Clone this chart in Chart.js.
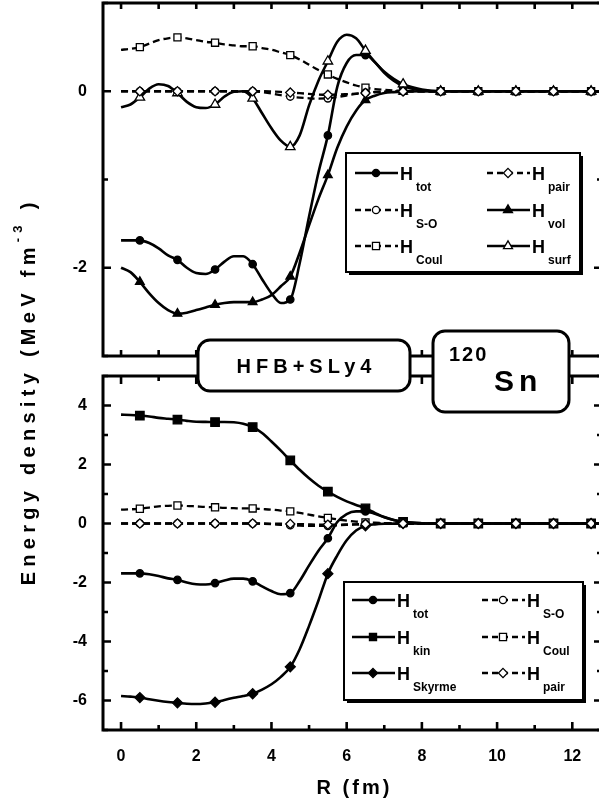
<!DOCTYPE html>
<html>
<head>
<meta charset="utf-8">
<title>Energy density - HFB+SLy4 120Sn</title>
<script src="https://cdn.jsdelivr.net/npm/chart.js@4.4.1/dist/chart.umd.min.js"></script>
<style>
  html, body { margin: 0; padding: 0; background: #fff; overflow: hidden; }
  #wrap { position: relative; width: 599px; height: 807px; overflow: hidden; }
  #wrap canvas { position: absolute; left: 0; top: 0; }
</style>
</head>
<body>
<div id="wrap">
  <canvas id="cvTop" width="605" height="807" style="width:605px;height:807px"></canvas>
  <canvas id="cvBot" width="605" height="807" style="width:605px;height:807px"></canvas>
</div>
<script>
// ─── Datos (R en fm, densidades en MeV fm^-3) ──────────────────────
const R = [0, 0.25, 0.5, 0.75, 1, 1.25, 1.5, 1.75, 2, 2.25, 2.5, 2.75,
           3, 3.25, 3.5, 3.75, 4, 4.25, 4.5, 4.75, 5, 5.25, 5.5, 5.75,
           6, 6.25, 6.5, 6.75, 7, 7.25, 7.5, 8, 8.5, 9.5, 10.5, 11.5, 12.5, 12.8];

const H_TOT = [-1.69, -1.69, -1.69, -1.72, -1.78, -1.86, -1.91, -2.00, -2.06, -2.07, -2.02, -1.93,
               -1.87, -1.87, -1.96, -2.13, -2.29, -2.40, -2.36, -1.95, -1.42, -0.92, -0.50, 0.05,
               0.32, 0.41, 0.41, 0.33, 0.21, 0.12, 0.06, 0.01, 0, 0, 0, 0, 0, 0];
const H_VOL = [-2.00, -2.05, -2.16, -2.29, -2.40, -2.48, -2.52, -2.51, -2.48, -2.45, -2.42, -2.40,
               -2.39, -2.39, -2.39, -2.36, -2.31, -2.21, -2.10, -1.83, -1.52, -1.22, -0.95, -0.64,
               -0.40, -0.22, -0.10, -0.05, -0.02, -0.01, -0.005, 0, 0, 0, 0, 0, 0, 0];
const H_SURF = [-0.18, -0.15, -0.07, 0.03, 0.08, 0.06, -0.02, -0.12, -0.18, -0.19, -0.15, -0.06,
                -0.005, 0.0, -0.08, -0.25, -0.42, -0.56, -0.63, -0.50, -0.16, 0.12, 0.34, 0.56,
                0.64, 0.60, 0.46, 0.33, 0.22, 0.14, 0.08, 0.02, 0, 0, 0, 0, 0, 0];
const H_COUL = [0.47, 0.48, 0.50, 0.54, 0.58, 0.60, 0.61, 0.60, 0.58, 0.56, 0.55, 0.53,
                0.52, 0.51, 0.51, 0.49, 0.47, 0.44, 0.41, 0.36, 0.30, 0.24, 0.19, 0.14,
                0.10, 0.065, 0.04, 0.025, 0.015, 0.008, 0.005, 0, 0, 0, 0, 0, 0, 0];
const H_SO = [0, 0, 0, 0, 0, 0, 0, 0, 0, 0, 0, 0,
              0, 0, 0, -0.01, -0.025, -0.045, -0.06, -0.072, -0.08, -0.083, -0.08, -0.065,
              -0.048, -0.03, -0.016, -0.008, -0.004, -0.002, 0, 0, 0, 0, 0, 0, 0, 0];
const H_PAIR = [0, 0, 0, 0, 0, 0, 0, 0, 0, 0, 0, 0,
                0, 0, 0, 0, -0.003, -0.008, -0.015, -0.022, -0.03, -0.037, -0.04, -0.038,
                -0.033, -0.027, -0.02, -0.013, -0.008, -0.004, -0.002, 0, 0, 0, 0, 0, 0, 0];
const H_KIN = [3.69, 3.68, 3.66, 3.63, 3.58, 3.55, 3.52, 3.48, 3.45, 3.445, 3.44, 3.44,
               3.43, 3.38, 3.27, 3.07, 2.78, 2.47, 2.14, 1.82, 1.53, 1.28, 1.08, 0.90,
               0.75, 0.63, 0.51, 0.36, 0.22, 0.12, 0.055, 0.01, 0, 0, 0, 0, 0, 0];
const H_SKY = [-5.85, -5.87, -5.90, -5.96, -6.01, -6.05, -6.08, -6.11, -6.12, -6.10, -6.06, -5.98,
               -5.91, -5.85, -5.77, -5.63, -5.45, -5.20, -4.86, -4.26, -3.47, -2.61, -1.70, -1.08,
               -0.57, -0.24, -0.08, -0.03, -0.01, -0.005, 0, 0, 0, 0, 0, 0, 0, 0];

// Ticks y etiquetas
const X_TICKS = [0, 1, 2, 3, 4, 5, 6, 7, 8, 9, 10, 11, 12];
const X_LABELS = [0, 2, 4, 6, 8, 10, 12];
const Y_TOP_TICKS = [1, 0, -1, -2, -3];
const Y_TOP_LABELS = [0, -2];
const Y_BOT_TICKS = [5, 4, 3, 2, 1, 0, -1, -2, -3, -4, -5, -6, -7];
const Y_BOT_LABELS = [4, 2, 0, -2, -4, -6];

const FONT = '"Liberation Sans", Arial, Helvetica, sans-serif';
const X_MIN = -0.48, X_MAX = 12.79;

// ─── Serie con marcadores sólo en R = n + 0.5 ─────────────────────
function serie(vals, style, filled, dashed, radius) {
    return {
        data: R.map((r, i) => ({ x: r, y: vals[i] })),
        borderColor: '#000',
        borderWidth: dashed ? 2.3 : 2.6,
        borderDash: dashed ? [7, 4] : [],
        pointStyle: style,
        pointBackgroundColor: filled ? '#000' : '#fff',
        pointBorderColor: '#000',
        pointBorderWidth: 1.3,
        pointRadius: (ctx) => (R[ctx.dataIndex] % 1 === 0.5 ? radius : 0),
        cubicInterpolationMode: 'monotone',
        fill: false
    };
}

// ─── Marcador para la leyenda ─────────────────────────────────────
function marca(ctx, style, x, y, r, filled) {
    ctx.save();
    ctx.setLineDash([]);
    ctx.lineWidth = 1.3;
    ctx.fillStyle = filled ? '#000' : '#fff';
    ctx.strokeStyle = '#000';
    ctx.beginPath();
    if (style === 'circle') {
        ctx.arc(x, y, r, 0, Math.PI * 2);
    } else if (style === 'rect') {
        const s = r * Math.SQRT1_2;
        ctx.rect(x - s, y - s, 2 * s, 2 * s);
    } else if (style === 'rectRot') {
        ctx.moveTo(x, y - r); ctx.lineTo(x + r, y); ctx.lineTo(x, y + r); ctx.lineTo(x - r, y);
        ctx.closePath();
    } else {
        ctx.moveTo(x, y - r);
        ctx.lineTo(x + 0.866 * r, y + 0.5 * r);
        ctx.lineTo(x - 0.866 * r, y + 0.5 * r);
        ctx.closePath();
    }
    ctx.fill();
    ctx.stroke();
    ctx.restore();
}

function leyenda(ctx, cfg) {
    const [bx, by, bw, bh] = cfg.box;
    ctx.save();
    ctx.setLineDash([]);
    ctx.fillStyle = '#000';
    ctx.fillRect(bx + 3, by + 3, bw, bh);
    ctx.fillStyle = '#fff';
    ctx.fillRect(bx, by, bw, bh);
    ctx.lineWidth = 2;
    ctx.strokeStyle = '#000';
    ctx.strokeRect(bx, by, bw, bh);

    cfg.items.forEach(it => {
        const x0 = cfg.cols[it.col], y = cfg.rows[it.row];
        ctx.beginPath();
        ctx.lineWidth = it.dashed ? 2.3 : 2.6;
        ctx.setLineDash(it.dashed ? [6, 4] : []);
        ctx.moveTo(x0, y);
        ctx.lineTo(x0 + 43, y);
        ctx.stroke();
        const rr = { circle: 3.6, rect: 5, rectRot: 4.6, triangle: 5.2 }[it.style];
        marca(ctx, it.style, x0 + 21, y, rr, it.filled);
        ctx.fillStyle = '#000';
        ctx.textAlign = 'left';
        ctx.textBaseline = 'alphabetic';
        ctx.font = 'bold 18px ' + FONT;
        ctx.fillText('H', x0 + 45, y + 7);
        ctx.font = 'bold 12px ' + FONT;
        ctx.fillText(it.sub, x0 + 61, y + 18);
    });
    ctx.restore();
}

// ─── Marco, ticks interiores y leyenda de cada panel ──────────────
function decorado(cfg) {
    return {
        id: 'decorado',
        afterDatasetsDraw(chart) {
            const ctx = chart.ctx, a = chart.chartArea;
            const xs = chart.scales.x, ys = chart.scales.y;
            ctx.save();
            ctx.strokeStyle = '#000';
            ctx.setLineDash([]);
            ctx.lineWidth = 3;
            ctx.strokeRect(a.left, a.top, a.right - a.left, a.bottom - a.top);
            ctx.lineWidth = 2.6;
            ctx.beginPath();
            X_TICKS.forEach(v => {
                const px = xs.getPixelForValue(v);
                const len = v % 2 === 0 ? cfg.xMajor : cfg.xMinor;
                ctx.moveTo(px, a.bottom); ctx.lineTo(px, a.bottom - len);
                ctx.moveTo(px, a.top);    ctx.lineTo(px, a.top + len);
            });
            cfg.yTicks.forEach(v => {
                const py = ys.getPixelForValue(v);
                const len = v % 2 === 0 ? 8 : 5;
                ctx.moveTo(a.left, py);  ctx.lineTo(a.left + len, py);
                ctx.moveTo(a.right, py); ctx.lineTo(a.right - len, py);
            });
            ctx.stroke();
            ctx.restore();
            leyenda(ctx, cfg.legend);
            if (cfg.extra) cfg.extra(ctx, chart);
        }
    };
}

function textoEspaciado(ctx, txt, x, y, ls, align) {
    ctx.letterSpacing = ls + 'px';
    const w = ctx.measureText(txt).width - ls;
    const x0 = align === 'center' ? x - w / 2 : x;
    ctx.textAlign = 'left';
    ctx.fillText(txt, x0, y);
    ctx.letterSpacing = '0px';
    return w;
}

// Cajas de texto, título del eje Y y del eje X
function rotulos(ctx) {
    ctx.save();
    ctx.setLineDash([]);
    ctx.lineWidth = 3;
    ctx.strokeStyle = '#000';
    ctx.fillStyle = '#fff';
    [[198, 340, 212, 51], [433, 331, 136, 81]].forEach(([x, y, w, h]) => {
        ctx.beginPath();
        ctx.roundRect(x, y, w, h, 12);
        ctx.fill();
        ctx.stroke();
    });
    ctx.fillStyle = '#000';
    ctx.textBaseline = 'alphabetic';
    ctx.font = 'bold 20px ' + FONT;
    textoEspaciado(ctx, 'HFB+SLy4', 304, 373, 5, 'center');
    ctx.font = 'bold 20px ' + FONT;
    textoEspaciado(ctx, '120', 449, 361, 2, 'left');
    ctx.font = 'bold 30px ' + FONT;
    textoEspaciado(ctx, 'Sn', 494, 391, 5, 'left');

    // Eje X
    ctx.font = 'bold 20px ' + FONT;
    textoEspaciado(ctx, 'R (fm)', 353, 794, 3, 'center');

    // Eje Y (rotado): se ajusta el espaciado para cubrir ~390 px
    const principal = 'Energy density (MeV fm', sup = '-3', cola = ' )';
    const largo = 388;
    const fMain = 'bold 20px ' + FONT, fSup = 'bold 13px ' + FONT;
    ctx.font = fMain;
    const a1 = ctx.measureText(principal).width, a3 = ctx.measureText(cola).width;
    ctx.font = fSup;
    const a2 = ctx.measureText(sup).width;
    const n = principal.length + sup.length + cola.length;
    const ls = Math.max(0, (largo - a1 - a2 - a3) / n);
    ctx.letterSpacing = ls + 'px';
    ctx.font = fMain;
    const w1 = ctx.measureText(principal).width, w3 = ctx.measureText(cola).width;
    ctx.font = fSup;
    const w2 = ctx.measureText(sup).width;

    ctx.translate(28, 394);
    ctx.rotate(-Math.PI / 2);
    const x0 = -(w1 + w2 + w3 - ls) / 2;
    ctx.textAlign = 'left';
    ctx.font = fMain;
    ctx.fillText(principal, x0, 7);
    ctx.font = fSup;
    ctx.fillText(sup, x0 + w1, -6);
    ctx.font = fMain;
    ctx.fillText(cola, x0 + w1 + w2, 7);
    ctx.restore();
}

const ejeY = (min, max, etiquetas) => ({
    min, max,
    ticks: {
        stepSize: 1,
        color: '#000',
        padding: 16,
        font: { family: FONT, size: 16, weight: 'bold' },
        callback: (v) => (etiquetas.includes(v) ? String(v) : '')
    },
    grid: { display: false, drawTicks: false },
    border: { display: false },
    // ancho fijo y sin relleno extra arriba/abajo
    afterFit: (s) => { s.width = 103; s.paddingTop = 0; s.paddingBottom = 0; }
});

const comunes = {
    responsive: false,
    animation: false,
    devicePixelRatio: 1,
    events: [],
    plugins: { legend: { display: false }, tooltip: { enabled: false } }
};

// ─── Panel superior ───────────────────────────────────────────────
new Chart(document.getElementById('cvTop'), {
    type: 'line',
    data: {
        datasets: [
            serie(H_PAIR, 'rectRot', false, true, 4.6),
            serie(H_SURF, 'triangle', false, false, 5.5),
            serie(H_VOL, 'triangle', true, false, 5),
            serie(H_TOT, 'circle', true, false, 3.7),
            serie(H_SO, 'circle', false, true, 3.7),
            serie(H_COUL, 'rect', false, true, 5)
        ]
    },
    options: {
        ...comunes,
        layout: { padding: { top: 3, bottom: 451, left: 0, right: 3 } },
        scales: {
            x: { type: 'linear', display: false, min: X_MIN, max: X_MAX },
            y: ejeY(-3, 1, Y_TOP_LABELS)
        }
    },
    plugins: [decorado({
        xMajor: 6, xMinor: 6, yTicks: Y_TOP_TICKS,
        legend: {
            box: [346, 153, 234, 119], rows: [173, 210, 246], cols: [355, 487],
            items: [
                { sub: 'tot',  style: 'circle',   filled: true,  dashed: false, col: 0, row: 0 },
                { sub: 'S-O',  style: 'circle',   filled: false, dashed: true,  col: 0, row: 1 },
                { sub: 'Coul', style: 'rect',     filled: false, dashed: true,  col: 0, row: 2 },
                { sub: 'pair', style: 'rectRot',  filled: false, dashed: true,  col: 1, row: 0 },
                { sub: 'vol',  style: 'triangle', filled: true,  dashed: false, col: 1, row: 1 },
                { sub: 'surf', style: 'triangle', filled: false, dashed: false, col: 1, row: 2 }
            ]
        }
    })]
});

// ─── Panel inferior ───────────────────────────────────────────────
new Chart(document.getElementById('cvBot'), {
    type: 'line',
    data: {
        datasets: [
            serie(H_PAIR, 'rectRot', false, true, 4.6),
            serie(H_SO, 'circle', false, true, 3.7),
            serie(H_COUL, 'rect', false, true, 5),
            serie(H_TOT, 'circle', true, false, 3.7),
            serie(H_KIN, 'rect', true, false, 6),
            serie(H_SKY, 'rectRot', true, false, 5)
        ]
    },
    options: {
        ...comunes,
        layout: { padding: { top: 376, bottom: 0, left: 0, right: 3 } },
        scales: {
            x: {
                type: 'linear', min: X_MIN, max: X_MAX,
                ticks: {
                    stepSize: 1,
                    includeBounds: false,
                    autoSkip: false,
                    maxRotation: 0,
                    color: '#000',
                    padding: 17,
                    font: { family: FONT, size: 16, weight: 'bold' },
                    callback: (v) => (X_LABELS.includes(v) ? String(v) : '')
                },
                grid: { display: false, drawTicks: false },
                border: { display: false },
                afterFit: (s) => { s.height = 77; }
            },
            y: ejeY(-7, 5, Y_BOT_LABELS)
        }
    },
    plugins: [decorado({
        xMajor: 8, xMinor: 5, yTicks: Y_BOT_TICKS,
        legend: {
            box: [344, 582, 239, 118], rows: [600, 637, 673], cols: [352, 482],
            items: [
                { sub: 'tot',    style: 'circle',  filled: true,  dashed: false, col: 0, row: 0 },
                { sub: 'kin',    style: 'rect',    filled: true,  dashed: false, col: 0, row: 1 },
                { sub: 'Skyrme', style: 'rectRot', filled: true,  dashed: false, col: 0, row: 2 },
                { sub: 'S-O',    style: 'circle',  filled: false, dashed: true,  col: 1, row: 0 },
                { sub: 'Coul',   style: 'rect',    filled: false, dashed: true,  col: 1, row: 1 },
                { sub: 'pair',   style: 'rectRot', filled: false, dashed: true,  col: 1, row: 2 }
            ]
        },
        extra: rotulos
    })]
});
</script>
</body>
</html>
